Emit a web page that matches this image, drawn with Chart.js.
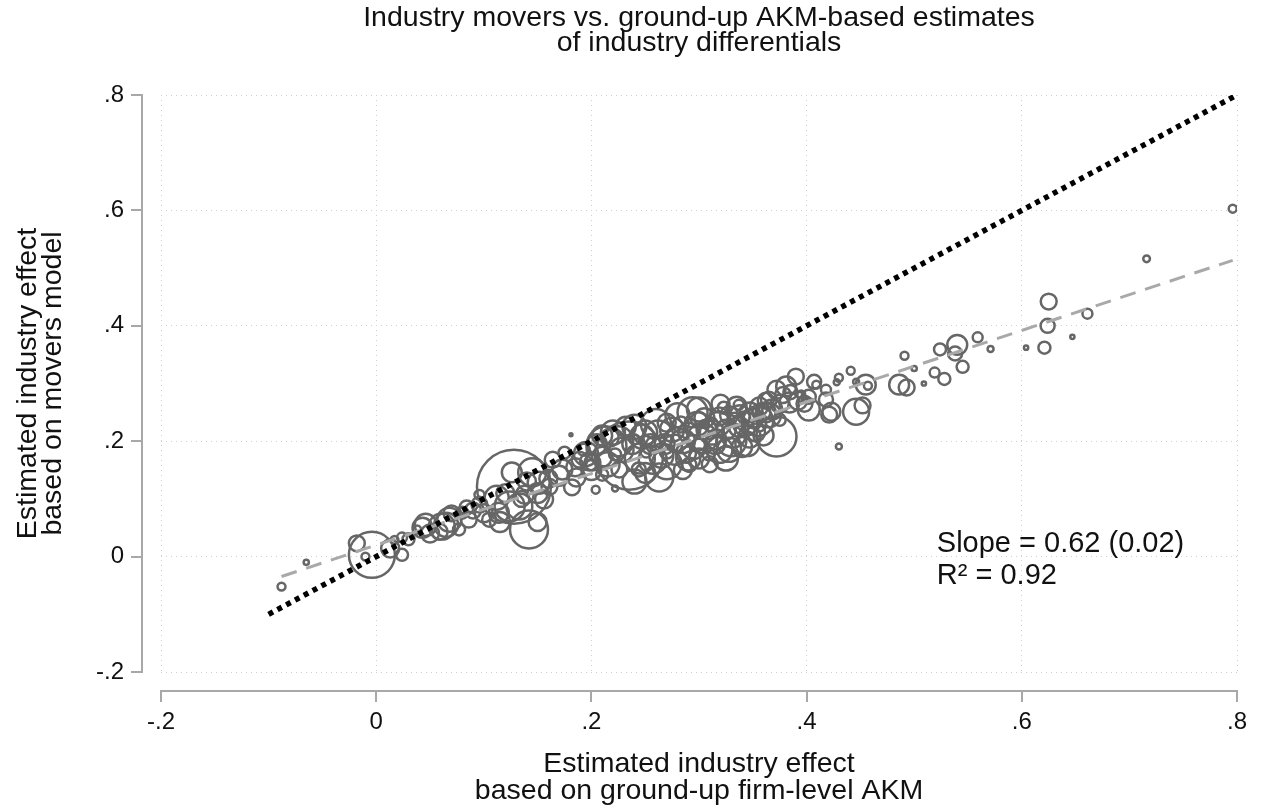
<!DOCTYPE html>
<html>
<head>
<meta charset="utf-8">
<script src="https://cdn.jsdelivr.net/npm/chart.js@4.4.1/dist/chart.umd.min.js"></script>
<style>
  html, body { margin: 0; padding: 0; background: #ffffff; }
  canvas { display: block; }
</style>
</head>
<body>
<canvas id="chart" width="1262" height="812"></canvas>
<script>
// Industry effects: ground-up firm-level AKM (x) vs. movers model (y), bubble weight = employment
const groundUpAKM = [
  -0.088, -0.065, -0.004, -0.018, -0.010, 0.013, 0.024, 0.024, 0.017, 0.046,
   0.065,  0.059,  0.061,  0.068,  0.086, 0.084, 0.080, 0.128, 0.142, 0.124,
   0.112,  0.145,  0.151,  0.173,  0.186, 0.204, 0.222, 0.181, 0.235, 0.214,
   0.201,  0.114,  0.133,  0.126,  0.161, 0.182, 0.198, 0.043, 0.105, 0.096,
   0.156,  0.138,  0.210,  0.189,  0.232, 0.217, 0.247, 0.257, 0.270, 0.279,
   0.288,  0.294,  0.307,  0.319,  0.319, 0.263, 0.226, 0.244, 0.258, 0.222,
   0.270,  0.300,  0.283,  0.300,  0.251, 0.240, 0.291, 0.309, 0.210, 0.193,
   0.316,  0.328,  0.347,  0.356,  0.365, 0.372, 0.381, 0.390, 0.384, 0.372,
   0.337,  0.347,  0.333,  0.356,  0.323, 0.337, 0.362, 0.375, 0.402, 0.423,
   0.418,  0.418,  0.402,  0.407,  0.409, 0.430, 0.428, 0.441, 0.455, 0.457,
   0.430,  0.446,  0.452,  0.421,  0.491, 0.500, 0.486, 0.493, 0.509, 0.519,
   0.528,  0.524,  0.540,  0.538,  0.545, 0.559, 0.571, 0.604, 0.621, 0.624,
   0.625,  0.647,  0.661,  0.716,  0.796, 0.446, 0.395, 0.311, 0.342, 0.038,
   0.096,  0.077,  0.164,  0.175,
   0.195,  0.205,  0.215,  0.225,  0.228, 0.238, 0.245, 0.250, 0.255, 0.262,
   0.265,  0.268,  0.275,  0.278,  0.285, 0.290, 0.295, 0.298, 0.303, 0.305,
   0.312,  0.315,  0.318,  0.325,  0.328, 0.332, 0.338, 0.343, 0.350, 0.353,
   0.358,  0.362,  0.368,  0.375,  0.378, 0.385, 0.392, 0.398, 0.240, 0.250,
   0.300,  0.325,  0.340,  0.310,  0.285, 0.200, 0.185, 0.170, 0.160, 0.150,
   0.140,  0.135,  0.120,  0.100,  0.090, 0.070, 0.050, 0.030, 0.115, 0.150,
   0.260,  0.280,  0.300,  0.270,  0.290, 0.330, 0.345, 0.355, 0.365, 0.220,
   0.210,  0.240,  0.320,  0.335,  0.360
];
const moversModel = [
  -0.052, -0.010, 0.003, 0.023, 0.000, 0.014, 0.003, 0.033, 0.029, 0.055,
   0.055,  0.043, 0.052, 0.064, 0.064, 0.085, 0.076, 0.121, 0.047, 0.087,
   0.102,  0.146, 0.128, 0.151, 0.137, 0.116, 0.118, 0.211, 0.175, 0.191,
   0.163,  0.076, 0.087, 0.146, 0.121, 0.120, 0.165, 0.050, 0.064, 0.090,
   0.099,  0.107, 0.173, 0.168, 0.225, 0.206, 0.208, 0.168, 0.232, 0.203,
   0.180,  0.250, 0.220, 0.243, 0.185, 0.137, 0.151, 0.151, 0.194, 0.177,
   0.182,  0.194, 0.229, 0.237, 0.182, 0.203, 0.159, 0.177, 0.142, 0.185,
   0.203,  0.185, 0.250, 0.260, 0.272, 0.289, 0.295, 0.312, 0.267, 0.208,
   0.225,  0.208, 0.237, 0.229, 0.258, 0.263, 0.250, 0.237, 0.255, 0.251,
   0.272,  0.289, 0.277, 0.303, 0.298, 0.310, 0.302, 0.322, 0.298, 0.296,
   0.191,  0.251, 0.262, 0.246, 0.348, 0.326, 0.298, 0.293, 0.300, 0.319,
   0.308,  0.359, 0.367, 0.352, 0.329, 0.380, 0.360, 0.362, 0.362, 0.400,
   0.442,  0.381, 0.421, 0.516, 0.603, 0.303, 0.281, 0.229, 0.241, 0.047,
   0.107,  0.047, 0.168, 0.180,
   0.178,  0.195, 0.160, 0.200, 0.185, 0.195, 0.170, 0.215, 0.195, 0.210,
   0.175,  0.195, 0.220, 0.185, 0.200, 0.215, 0.190, 0.230, 0.205, 0.240,
   0.215,  0.195, 0.230, 0.220, 0.245, 0.210, 0.245, 0.230, 0.240, 0.215,
   0.250,  0.270, 0.255, 0.265, 0.280, 0.285, 0.270, 0.265, 0.130, 0.145,
   0.170,  0.170, 0.190, 0.160, 0.150, 0.150, 0.155, 0.140, 0.135, 0.110,
   0.130,  0.100, 0.110, 0.075, 0.080, 0.075, 0.040, 0.030, 0.060, 0.060,
   0.230,  0.245, 0.255, 0.160, 0.170, 0.200, 0.195, 0.235, 0.245, 0.215,
   0.210,  0.225, 0.265, 0.260, 0.210
];
const employmentWeight = [
    7,   3, 235,  28,   7,  36,  16,  11,   7,  54,
   64,  28,  75,  64,  28,  22,  16, 608, 160, 100,
   64,  87,  54,  44,  36,   7,   4,   1, 514, 178,
   28,  44,  75,  44,  28,  28,  36,  44,  22,  28,
   36,  36,  44,  28,  44,  36,  64,  87,  36,  64,
   44, 100,  44,  36,  75,  87,  28,  22,  28,  16,
   22,  16,  28,  28,  16,  11,  22,  16,  16,  16,
   44,  64,  44,  36,  28,  36,  44,  28,  44, 178,
   44,  54,  22,  22,  16,  11,  44,  16,  54,  36,
   22,  11,  22,  22,   7,   7,   4,   7,  44,   7,
    4,  75,  28,  28,   7,   3,  44,  28,   2,  11,
   16,  16,  44,  22,  16,  11,   4,   2,  16,  22,
   28,   2,  11,   5,   7,   4,   7,  22,  16,   7,
   11,  16,  28,  16,
   64,  44,  64, 100,  64,  44, 100,  64,  44, 100,
   64,  44,  64, 100,  64,  44,  64,  64, 100,  44,
   64,  44,  64,  44,  36,  64,  44,  64,  44,  36,
   36,  28,  44,  36,  28,  22,  36,  28,  64,  44,
   44,  64,  44,  28,  36,  44,  36,  44,  36,  44,
   36,  28,  36,  36,  28,  28,  36,  16,  44,  36,
  100,  64,  64, 100,  64, 100,  64, 100,  64,  64,
   44,  64,  36,  44,  44
];

const axisTicks = [-0.2, 0, 0.2, 0.4, 0.6, 0.8];
const diagonalEnds = [-0.1, 0.8];
const fitSlope = 0.62;
const fitSlopeSE = 0.02;
const fitIntercept = 0.02;
const rSquared = 0.92;

const titleLines = ['Industry movers vs. ground-up AKM-based estimates', 'of industry differentials'];
const xTitleLines = ['Estimated industry effect', 'based on ground-up firm-level AKM'];
const yTitleLines = ['Estimated industry effect', 'based on movers model'];
const statLines = [
  'Slope = ' + fitSlope.toFixed(2) + ' (' + fitSlopeSE.toFixed(2) + ')',
  'R\u00B2 = ' + rSquared.toFixed(2)
];

const FONT = '"Liberation Sans", Arial, Helvetica, sans-serif';
const INK = '#111111';

const bubbles = groundUpAKM.map((x, i) => ({ x, y: moversModel[i], r: 1.5 * Math.sqrt(employmentWeight[i]) }));
const xMin = Math.min(...groundUpAKM), xMax = Math.max(...groundUpAKM);
const fitPoints = [xMin, xMax].map(x => ({ x, y: fitIntercept + fitSlope * x }));
const diagonalPoints = diagonalEnds.map(v => ({ x: v, y: v }));

function tickText(v) {
  const s = (Math.round(v * 10) / 10).toFixed(1);
  if (s === '0.0' || s === '-0.0') return '0';
  return s.replace(/^(-?)0\./, '$1.');
}

// Stata-style axes drawn slightly away from the plot region, plus titles and fit stats
const decorations = {
  id: 'decorations',
  afterDraw(chart) {
    const { ctx, chartArea: a, scales: { x, y } } = chart;
    ctx.save();
    ctx.strokeStyle = '#a8a8a8';
    ctx.lineWidth = 2;
    ctx.lineCap = 'butt';
    const axX = a.left - 19;
    const axY = a.bottom + 19;
    ctx.beginPath();
    ctx.moveTo(axX, y.getPixelForValue(axisTicks[axisTicks.length - 1]));
    ctx.lineTo(axX, y.getPixelForValue(axisTicks[0]));
    ctx.moveTo(x.getPixelForValue(axisTicks[0]), axY);
    ctx.lineTo(x.getPixelForValue(axisTicks[axisTicks.length - 1]), axY);
    axisTicks.forEach(t => {
      const py = Math.round(y.getPixelForValue(t));
      ctx.moveTo(axX + 1, py);
      ctx.lineTo(axX - 11, py);
      const px = Math.round(x.getPixelForValue(t));
      ctx.moveTo(px, axY - 1);
      ctx.lineTo(px, axY + 11);
    });
    ctx.stroke();

    ctx.fillStyle = INK;
    ctx.font = '28.5px ' + FONT;
    ctx.textAlign = 'center';
    ctx.textBaseline = 'middle';
    const cx = (a.left + a.right) / 2;
    const cy = (a.top + a.bottom) / 2;
    ctx.fillText(titleLines[0], cx, 18);
    ctx.fillText(titleLines[1], cx, 43);
    ctx.fillText(xTitleLines[0], cx, 764);
    ctx.fillText(xTitleLines[1], cx, 791);

    ctx.save();
    ctx.translate(28, cy);
    ctx.rotate(-Math.PI / 2);
    ctx.fillText(yTitleLines[0], 0, 0);
    ctx.fillText(yTitleLines[1], 0, 25);
    ctx.restore();

    ctx.font = '29px ' + FONT;
    ctx.textAlign = 'left';
    ctx.fillText(statLines[0], x.getPixelForValue(0.521), y.getPixelForValue(0.022));
    ctx.fillText(statLines[1], x.getPixelForValue(0.521), y.getPixelForValue(-0.033));
    ctx.restore();
  }
};

const gridStyle = { color: '#cfcfcf', lineWidth: 1, drawTicks: false };

new Chart(document.getElementById('chart'), {
  type: 'bubble',
  data: {
    datasets: [
      {
        type: 'line',
        data: diagonalPoints,
        borderColor: '#000000',
        borderWidth: 5.5,
        borderDash: [5, 5],
        borderCapStyle: 'butt',
        pointRadius: 0,
        fill: false,
        order: 1
      },
      {
        type: 'line',
        data: fitPoints,
        borderColor: '#a9a9a9',
        borderWidth: 3,
        borderDash: [16, 10],
        borderCapStyle: 'butt',
        pointRadius: 0,
        fill: false,
        order: 2
      },
      {
        type: 'bubble',
        data: bubbles,
        borderColor: 'rgb(102,102,102)',
        backgroundColor: 'rgba(0,0,0,0)',
        borderWidth: 2.5,
        order: 3
      }
    ]
  },
  options: {
    responsive: false,
    animation: false,
    devicePixelRatio: 1,
    layout: { autoPadding: false, padding: { top: 95, right: 25, left: 0, bottom: 0 } },
    plugins: { legend: { display: false }, tooltip: { enabled: false }, title: { display: false } },
    scales: {
      x: {
        type: 'linear',
        min: -0.2, max: 0.8,
        afterBuildTicks: s => { s.ticks = axisTicks.map(v => ({ value: v })); },
        afterFit: s => { s.height = 140; s.paddingLeft = 0; s.paddingRight = 0; },
        grid: gridStyle,
        border: { display: false, dash: [1, 4] },
        ticks: { padding: 36, color: INK, font: { family: FONT, size: 24 }, callback: v => tickText(v), maxRotation: 0, autoSkip: false }
      },
      y: {
        type: 'linear',
        min: -0.2, max: 0.8,
        afterBuildTicks: s => { s.ticks = axisTicks.map(v => ({ value: v })); },
        afterFit: s => { s.width = 161; s.paddingTop = 0; s.paddingBottom = 0; },
        grid: gridStyle,
        border: { display: false, dash: [1, 4] },
        ticks: { padding: 37, color: INK, font: { family: FONT, size: 24 }, callback: v => tickText(v), autoSkip: false }
      }
    }
  },
  plugins: [decorations]
});
</script>
</body>
</html>
